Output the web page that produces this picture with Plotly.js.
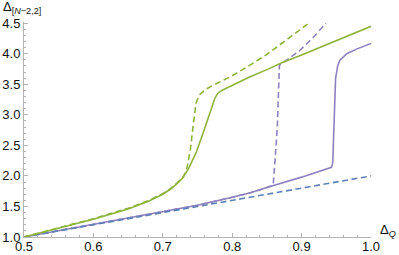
<!DOCTYPE html>
<html>
<head>
<meta charset="utf-8">
<script src="https://cdn.plot.ly/plotly-3.0.1.min.js"></script>
<style>html,body{margin:0;padding:0;background:#fff;}#chart{width:399px;height:255px;}</style>
</head>
<body>
<div id="chart"></div>
<script>
// Blue dashed (linear reference)
const blueDashX = [0.5, 1.0];
const blueDashY = [1.0, 2.0];

// Purple solid
const purpleSolidX = [0.5, 0.6, 0.7, 0.75, 0.8, 0.825, 0.85, 0.9, 0.943, 0.945, 0.946, 0.947, 0.949, 0.952, 0.955, 0.965, 0.98, 1.0];
const purpleSolidY = [1.0, 1.21, 1.42, 1.52, 1.65, 1.72, 1.81, 1.98, 2.14, 2.22, 2.6, 3.0, 3.6, 3.8, 3.89, 4.0, 4.08, 4.17];

// Purple dashed
const purpleDashX = [0.5, 0.6, 0.7, 0.75, 0.8, 0.825, 0.85, 0.859, 0.862, 0.865, 0.868, 0.878, 0.897, 0.917, 0.935];
const purpleDashY = [1.0, 1.21, 1.42, 1.52, 1.65, 1.72, 1.81, 1.85, 2.3, 2.8, 3.81, 3.89, 4.05, 4.27, 4.5];

// Green solid
const greenSolidX = [0.5, 0.55, 0.6, 0.65, 0.68, 0.7, 0.712, 0.72, 0.729, 0.738, 0.748, 0.758, 0.765, 0.77, 0.775, 0.779, 0.785, 0.796, 0.825, 0.85, 0.873, 0.9, 0.95, 1.0];
const greenSolidY = [1.0, 1.14, 1.29, 1.46, 1.59, 1.70, 1.79, 1.87, 1.97, 2.14, 2.38, 2.70, 2.95, 3.12, 3.27, 3.35, 3.40, 3.46, 3.62, 3.74, 3.86, 3.98, 4.22, 4.45];

// Green dashed
const greenDashX = [0.5, 0.55, 0.6, 0.65, 0.68, 0.7, 0.712, 0.72, 0.729, 0.734, 0.74, 0.744, 0.748, 0.753, 0.762, 0.772, 0.8, 0.825, 0.85, 0.875, 0.9, 0.909];
const greenDashY = [1.0, 1.15, 1.30, 1.47, 1.60, 1.71, 1.80, 1.88, 1.98, 2.08, 2.45, 2.85, 3.2, 3.33, 3.42, 3.48, 3.64, 3.81, 3.99, 4.2, 4.41, 4.49];

const xTicks = [0.5, 0.6, 0.7, 0.8, 0.9, 1.0];
const xTickText = ["0.5", "0.6", "0.7", "0.8", "0.9", "1.0"];
const yTicks = [1.0, 1.5, 2.0, 2.5, 3.0, 3.5, 4.0, 4.5];
const yTickText = ["1.0", "1.5", "2.0", "2.5", "3.0", "3.5", "4.0", "4.5"];

const BLUE = '#5e81b5', PURPLE = '#8f80c0', GREEN = '#8db33a';
const DASH = '6px,3.5px';
const FONT = 'Liberation Sans, Arial, sans-serif';

const traces = [
  {x: purpleSolidX, y: purpleSolidY, mode: 'lines', line: {color: PURPLE, width: 1.6}},
  {x: purpleDashX, y: purpleDashY, mode: 'lines', line: {color: PURPLE, width: 1.6, dash: DASH}},
  {x: blueDashX, y: blueDashY, mode: 'lines', line: {color: BLUE, width: 1.6, dash: DASH}},
  {x: greenSolidX, y: greenSolidY, mode: 'lines', line: {color: GREEN, width: 1.6}},
  {x: greenDashX, y: greenDashY, mode: 'lines', line: {color: GREEN, width: 1.6, dash: DASH}}
];

const axisCommon = {
  showgrid: false, zeroline: false, showline: true, linecolor: '#b3b3b3', linewidth: 1,
  ticks: 'inside', ticklen: 4, tickcolor: '#b3b3b3', tickwidth: 1,
  tickfont: {family: FONT, size: 13, color: '#111'},
  tickmode: 'array', fixedrange: true
};

const layout = {
  width: 399, height: 255,
  margin: {l: 24, r: 28, t: 22, b: 18},
  paper_bgcolor: '#fff', plot_bgcolor: '#fff',
  showlegend: false,
  xaxis: Object.assign({}, axisCommon, {
    range: [0.5, 1.0], tickvals: xTicks, ticktext: xTickText, ticklabelstandoff: -3,
    minor: {ticks: 'inside', ticklen: 2, tickcolor: '#b3b3b3', dtick: 0.02, tick0: 0.5, showgrid: false}
  }),
  yaxis: Object.assign({}, axisCommon, {
    range: [1.0, 4.52], tickvals: yTicks, ticktext: yTickText,
    minor: {ticks: 'inside', ticklen: 2, tickcolor: '#b3b3b3', dtick: 0.1, tick0: 1.0, showgrid: false}
  }),
  annotations: [
    {text: 'Δ<sub>[<i>N</i>−2,2]</sub>', xref: 'paper', yref: 'paper', x: -0.066, y: 1.115,
     xanchor: 'left', yanchor: 'top', showarrow: false, font: {family: FONT, size: 13, color: '#111'}},
    {text: 'Δ<sub><i>Q</i></sub>', xref: 'paper', yref: 'paper', x: 1.02, y: 0.03,
     xanchor: 'left', yanchor: 'middle', showarrow: false, font: {family: FONT, size: 13, color: '#111'}}
  ]
};

Plotly.newPlot('chart', traces, layout, {staticPlot: true, displayModeBar: false});
</script>
</body>
</html>
